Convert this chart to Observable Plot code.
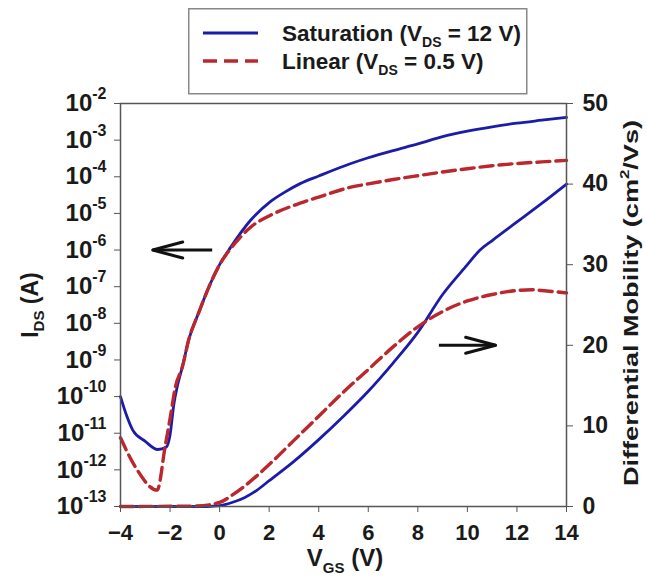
<!DOCTYPE html>
<html><head><meta charset="utf-8">
<script src="https://cdn.jsdelivr.net/npm/d3@7"></script>
<script src="https://cdn.jsdelivr.net/npm/@observablehq/plot@0.6"></script>
<style>
html,body{margin:0;padding:0;background:#fff;}
#wrap{position:relative;width:646px;height:577px;}
#legend{position:absolute;left:188px;top:8px;}
</style></head><body><div id="wrap"></div>
<script>
// ---- data ----
const satIdsVgs = [-4, -3.75, -3.5, -3, -2.5, -2.15, -2.0, -1.85, -1.7, -1.5, -1.25, -0.85, -0.4, 0, 0.45, 1.25, 2.05, 2.6, 3.25, 4, 5.3, 6, 7, 8, 9, 10, 11, 12, 13, 14];
const satIds = [1.0e-10, 3e-11, 1.2e-11, 6e-12, 3.6e-12, 4.2e-12, 9e-12, 6e-11, 2e-10, 6.6e-10, 3.5e-9, 1.9e-8, 1.1e-7, 4e-7, 1.2e-6, 6.5e-6, 2.1e-5, 3.7e-5, 6.5e-5, 1.05e-4, 2.3e-4, 3.3e-4, 5.2e-4, 7.9e-4, 1.25e-3, 1.75e-3, 2.3e-3, 2.9e-3, 3.5e-3, 4.2e-3];

const linIdsVgs = [-4, -3.4, -2.52, -2.2, -2.0, -1.78, -1.5, -1.25, -0.85, -0.4, 0, 0.45, 0.85, 1.25, 2.05, 3.25, 4, 5.3, 6, 7, 8, 9, 10, 11, 12, 13, 14];
const linIds = [7.5e-12, 1.2e-12, 2.8e-13, 4.3e-12, 2.5e-11, 1.9e-10, 6.6e-10, 3.5e-9, 1.9e-8, 1.1e-7, 4e-7, 1.1e-6, 2.3e-6, 4.2e-6, 8.9e-6, 1.9e-5, 2.8e-5, 5.2e-5, 6.4e-5, 8.4e-5, 1.07e-4, 1.35e-4, 1.66e-4, 2.0e-4, 2.3e-4, 2.55e-4, 2.8e-4];

const satMobVgs = [-4, -0.5, 0, 0.5, 1, 1.5, 2, 3, 4, 5, 6, 7, 8, 9, 10, 10.5, 11, 12, 13, 14];
const satMob = [0, 0, 0.1, 0.5, 1.1, 2.0, 3.2, 5.6, 8.3, 11.2, 14.3, 17.8, 21.6, 26.3, 30.0, 31.8, 33.0, 35.3, 37.6, 40.0];

const linMobVgs = [-4, -1, 0, 0.5, 1, 1.5, 2, 3, 4, 5, 6, 7, 8, 9, 10, 11, 12, 12.6, 13, 14];
const linMob = [0, 0.05, 0.5, 1.4, 2.5, 3.8, 5.2, 8.2, 11.2, 14.2, 17.0, 19.8, 22.3, 24.2, 25.5, 26.3, 26.8, 26.9, 26.8, 26.5];

const xTicks = [-4, -2, 0, 2, 4, 6, 8, 10, 12, 14];
const yExponents = [-2, -3, -4, -5, -6, -7, -8, -9, -10, -11, -12, -13];
const mobTicks = [0, 10, 20, 30, 40, 50];

// annotation arrows (data units): left one points at the I_DS axis, right one at the mobility axis
const arrowLeft = {x1: -0.3, x2: -2.7, ids: 1e-6};
const arrowRight = {x1: 8.85, x2: 11.14, mob: 20};

const seriesNames = ["Saturation", "Linear"];
const blue = "#1c1ca8", red = "#bb272d";

// mobility (0..50) mapped onto the log current scale (1e-13..1e-2)
const toY = m => Math.pow(10, -13 + m * 11 / 50);
const fromY = v => (Math.log10(v) + 13) * 50 / 11;

const zip = (xs, ys) => xs.map((x, i) => ({x, y: ys[i]}));
const satIdsData = zip(satIdsVgs, satIds);
const linIdsData = zip(linIdsVgs, linIds);
const satMobData = zip(satMobVgs, satMob).map(d => ({x: d.x, y: toY(d.y)}));
const linMobData = zip(linMobVgs, linMob).map(d => ({x: d.x, y: toY(d.y)}));
const arrows = [
  {x1: arrowLeft.x1, x2: arrowLeft.x2, y: arrowLeft.ids, dir: -90},
  {x1: arrowRight.x1, x2: arrowRight.x2, y: toY(arrowRight.mob), dir: 90}
];
// open arrowhead drawn with its tip at the anchor point
const headShape = {
  draw(context, l) {
    context.moveTo(-8, l);
    context.lineTo(0, 0);
    context.lineTo(8, l);
  }
};

const FONT = "'Liberation Sans', Arial, Helvetica, sans-serif";

const chart = Plot.plot({
  width: 646, height: 577,
  marginTop: 103, marginBottom: 71, marginLeft: 120, marginRight: 80,
  style: {fontFamily: FONT, fontSize: "22px", fontWeight: "bold", color: "#1a1a1a", background: "#fff", display: "block"},
  x: {domain: [-4, 14]},
  y: {type: "log", domain: [1e-13, 1e-2]},
  marks: [
    Plot.axisX({ticks: xTicks, tickSize: 6, tickPadding: 12, label: null, fontSize: 22, fontWeight: "bold", stroke: "#555"}),
    Plot.axisY({ticks: yExponents.map(e => Math.pow(10, e)), tickFormat: d => "10^" + Math.round(Math.log10(d)), tickSize: 6, tickPadding: 8, label: null, fontSize: 24, fontWeight: "bold", stroke: "#555"}),
    Plot.axisY({anchor: "right", ticks: mobTicks.map(toY), tickFormat: d => String(Math.round(fromY(d))), tickSize: 6, tickPadding: 10, label: null, fontSize: 23, fontWeight: "bold", stroke: "#555"}),
    Plot.line(satIdsData, {x: "x", y: "y", stroke: blue, strokeWidth: 2.8, curve: "monotone-x"}),
    Plot.line(satMobData, {x: "x", y: "y", stroke: blue, strokeWidth: 2.8, curve: "monotone-x"}),
    Plot.line(linIdsData, {x: "x", y: "y", stroke: red, strokeWidth: 3.4, strokeDasharray: "13,6", curve: "monotone-x"}),
    Plot.line(linMobData, {x: "x", y: "y", stroke: red, strokeWidth: 3.4, strokeDasharray: "13,6", curve: "monotone-x"}),
    Plot.link(arrows, {x1: "x1", x2: "x2", y1: "y", y2: "y", stroke: "#111", strokeWidth: 3}),
    Plot.vector(arrows, {x: "x2", y: "y", rotate: "dir", length: 30, anchor: "start", shape: headShape, stroke: "#111", fill: "none", strokeWidth: 3}),
    Plot.frame({stroke: "#555", strokeWidth: 1.5})
  ]
});

const svg = d3.select(chart);

// superscript tick labels 10^n
svg.selectAll("text").each(function() {
  const t = this.textContent;
  if (t.startsWith("10^")) {
    const exp = t.slice(3);
    const el = d3.select(this);
    el.text("");
    el.append("tspan").text("10");
    el.append("tspan").attr("dy", -12).attr("font-size", "16px").text(exp);
  }
});

function rich(sel, parts, size) {
  let shift = 0;
  parts.forEach(([txt, kind]) => {
    const target = kind === "sub" ? 0.28 * size : kind === "sup" ? -0.42 * size : 0;
    const ts = sel.append("tspan").text(txt).attr("dy", target - shift);
    if (kind) ts.attr("font-size", Math.round(size * 0.64) + "px");
    shift = target;
  });
}

const titles = svg.append("g").attr("font-family", FONT).attr("font-weight", "bold").attr("fill", "#1a1a1a");
// left axis title
rich(titles.append("text").attr("font-size", "23px").attr("text-anchor", "middle")
  .attr("transform", "translate(38,305) rotate(-90)"), [["I", null], ["DS", "sub"], [" (A)", null]], 23);
// bottom axis title
rich(titles.append("text").attr("font-size", "24px").attr("text-anchor", "middle")
  .attr("transform", "translate(345,566)"), [["V", null], ["GS", "sub"], [" (V)", null]], 24);
// right axis title
rich(titles.append("text").attr("font-size", "21px").attr("text-anchor", "middle")
  .attr("textLength", 366).attr("lengthAdjust", "spacingAndGlyphs")
  .attr("transform", "translate(638,303) rotate(-90)"), [["Differential Mobility (cm", null], ["2", "sup"], ["/Vs)", null]], 21);

const wrap = document.getElementById("wrap");
wrap.appendChild(chart);

// legend
const leg = d3.select(wrap).append("svg").attr("id", "legend").attr("width", 340).attr("height", 87)
  .attr("font-family", FONT).attr("font-weight", "bold");
leg.append("rect").attr("x", 0.75).attr("y", 0.75).attr("width", 338).attr("height", 85)
  .attr("fill", "#fff").attr("stroke", "#888").attr("stroke-width", 1.5);
const legItems = [
  {name: seriesNames[0], color: blue, dash: null, width: 2.8, y: 25, parts: [["Saturation (V", null], ["DS", "sub"], [" = 12 V)", null]]},
  {name: seriesNames[1], color: red, dash: "14,7", width: 3.4, y: 53, parts: [["Linear (V", null], ["DS", "sub"], [" = 0.5 V)", null]]}
];
legItems.forEach(it => {
  const ln = leg.append("line").attr("x1", 15).attr("x2", 70).attr("y1", it.y).attr("y2", it.y)
    .attr("stroke", it.color).attr("stroke-width", it.width);
  if (it.dash) ln.attr("stroke-dasharray", it.dash);
  rich(leg.append("text").attr("x", 94).attr("y", it.y + 8).attr("font-size", "22.5px").attr("fill", "#1a1a1a"), it.parts, 22.5);
});
</script></body></html>
